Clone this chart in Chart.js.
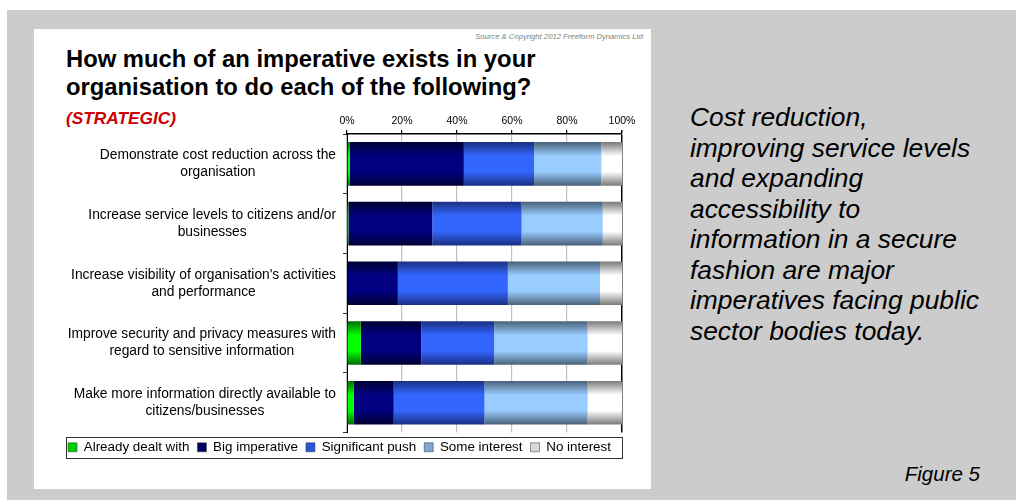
<!DOCTYPE html>
<html>
<head>
<meta charset="utf-8">
<script src="https://cdn.jsdelivr.net/npm/chart.js@4/dist/chart.umd.min.js"></script>
<style>
  body { margin: 0; width: 1016px; height: 500px; background: #fff; position: relative; overflow: hidden;
         font-family: "Liberation Sans", Arial, sans-serif; }
  #bg { position: absolute; left: 7px; top: 10px; width: 1009px; height: 490px; background: #cccccc; }
  #panel { position: absolute; left: 34px; top: 29px; width: 617px; height: 460px; background: #fff; }
  #source { position: absolute; right: 8px; top: 3px; font-size: 7.7px; font-style: italic; color: #808080; }
  #title { position: absolute; left: 32px; top: 16px; margin: 0; font-size: 23.8px; line-height: 28px; font-weight: bold; color: #000; }
  #tag { position: absolute; left: 32px; top: 79px; font-size: 17.3px; line-height: 20px; font-weight: bold; font-style: italic; color: #cc0000; }
  #wrap { position: absolute; left: 0; top: 81px; width: 617px; height: 360px; }
  #note { position: absolute; left: 690px; top: 102px; font-size: 26.4px; line-height: 30.5px; font-style: italic; color: #000; }
  #fig { position: absolute; right: 36px; top: 462px; font-size: 20.5px; font-style: italic; color: #000; }
</style>
</head>
<body>
<div id="bg"></div>
<div id="panel">
  <div id="source">Source &amp; Copyright 2012 Freeform Dynamics Ltd</div>
  <h1 id="title">How much of an imperative exists in your<br>organisation to do each of the following?</h1>
  <div id="tag">(STRATEGIC)</div>
  <div id="wrap"><canvas id="grafico"></canvas></div>
</div>
<div id="note">Cost reduction,<br>improving service levels<br>and expanding<br>accessibility to<br>information in a secure<br>fashion are major<br>imperatives facing public<br>sector bodies today.</div>
<div id="fig">Figure 5</div>

<script>
// Categorias (linhas de cada rótulo)
const categories = [
    ['Demonstrate cost reduction across the', 'organisation'],
    ['Increase service levels to citizens and/or', 'businesses'],
    ["Increase visibility of organisation's activities", 'and performance'],
    ['Improve security and privacy measures with', 'regard to sensitive information'],
    ['Make more information directly available to', 'citizens/businesses'],
];

// Percentagens por resposta
const alreadyDealtWith = [1, 0.5, 0, 5, 2.5];
const bigImperative = [41.5, 30.5, 18.5, 22, 14.5];
const significantPush = [25.5, 32.5, 40, 26.5, 33];
const someInterest = [24.5, 29.5, 33.5, 34, 37.5];
const noInterest = [7.5, 7, 8, 12.5, 12.5];

const tickLabels = ['0%', '20%', '40%', '60%', '80%', '100%'];

const FONT = '"Liberation Sans", Arial, sans-serif';
const BAR_PCT = 0.73;

// Gradiente vertical: escuro nas bordas, claro no meio da barra
function shade(edge, mid) {
    return function (ctx) {
        const chart = ctx.chart;
        const y = chart.scales.y;
        if (ctx.type !== 'data' || !y || !chart.chartArea) return mid;
        const c = y.getPixelForValue(ctx.dataIndex);
        const h = (y.height / categories.length) * BAR_PCT / 2;
        const g = chart.ctx.createLinearGradient(0, c - h, 0, c + h);
        g.addColorStop(0, edge);
        g.addColorStop(0.32, mid);
        g.addColorStop(0.68, mid);
        g.addColorStop(1, edge);
        return g;
    };
}

// Rótulos das categorias e moldura da legenda
const extras = {
    id: 'extras',
    afterDraw(chart) {
        const c = chart.ctx;
        const y = chart.scales.y;
        const right = chart.chartArea.left - 11;
        c.save();
        c.font = '13.8px ' + FONT;
        c.fillStyle = '#000';
        c.textAlign = 'center';
        c.textBaseline = 'middle';
        categories.forEach(function (lines, i) {
            const mid = y.getPixelForValue(i);
            const w = Math.max.apply(null, lines.map(function (l) { return c.measureText(l).width; }));
            lines.forEach(function (l, k) {
                c.fillText(l, right - w / 2, mid + (k - (lines.length - 1) / 2) * 17);
            });
        });

        const boxes = chart.legend.legendHitBoxes;
        if (boxes && boxes.length) {
            const l = boxes[0].left - 2;
            const last = boxes[boxes.length - 1];
            const r = last.left + last.width + 11;
            const t = boxes[0].top - 4;
            const b = boxes[0].top + boxes[0].height + 4;
            c.strokeStyle = '#333';
            c.lineWidth = 1;
            c.strokeRect(Math.round(l) + 0.5, Math.round(t) + 0.5, Math.round(r - l), Math.round(b - t));
        }
        c.restore();
    }
};

const data = {
    labels: categories.map(function (l) { return l.join(' '); }),
    datasets: [
        { label: 'Already dealt with', data: alreadyDealtWith, backgroundColor: shade('#006b00', '#00ff00'), legendColor: '#00d000' },
        { label: 'Big imperative', data: bigImperative, backgroundColor: shade('#000033', '#000080'), legendColor: '#000066' },
        { label: 'Significant push', data: significantPush, backgroundColor: shade('#1a2f80', '#3366ff'), legendColor: '#2a55dd' },
        { label: 'Some interest', data: someInterest, backgroundColor: shade('#4a6178', '#99ccff'), legendColor: '#7fa8d0' },
        { label: 'No interest', data: noInterest, backgroundColor: shade('#7a7a7a', '#ffffff'), legendColor: '#d8d8d8' },
    ],
};

const config = {
    type: 'bar',
    data: data,
    plugins: [extras],
    options: {
        indexAxis: 'y',
        responsive: true,
        maintainAspectRatio: false,
        animation: false,
        datasets: { bar: { categoryPercentage: 1, barPercentage: BAR_PCT, borderWidth: 0 } },
        layout: { padding: { left: 23, right: 29, top: 0, bottom: 6 } },
        scales: {
            x: {
                position: 'top',
                stacked: true,
                min: 0,
                max: 100,
                afterFit: function (s) { s.height = 24; },
                ticks: {
                    stepSize: 20,
                    padding: 3,
                    color: '#000',
                    font: { family: FONT, size: 10.5 },
                    callback: function (v, i) { return tickLabels[i]; },
                },
                grid: {
                    color: function (ctx) { return ctx.tick && ctx.tick.value === 100 ? '#000' : '#c0c0c0'; },
                    lineWidth: function (ctx) { return ctx.tick && ctx.tick.value === 100 ? 1.5 : 1.2; },
                    tickColor: '#000',
                    tickLength: 4,
                },
                border: { color: '#000', width: 1.5 },
            },
            y: {
                stacked: true,
                afterFit: function (s) { s.width = 290; },
                ticks: { display: false },
                grid: { drawOnChartArea: false, tickLength: 4, color: '#333' },
                border: { color: '#000', width: 1 },
            },
        },
        plugins: {
            legend: {
                position: 'bottom',
                labels: {
                    color: '#000',
                    font: { family: FONT, size: 13.4 },
                    boxWidth: 9,
                    boxHeight: 9,
                    padding: 8,
                    generateLabels: function (chart) {
                        const items = Chart.defaults.plugins.legend.labels.generateLabels(chart);
                        items.forEach(function (it) {
                            it.fillStyle = chart.data.datasets[it.datasetIndex].legendColor;
                            it.strokeStyle = '#333';
                            it.lineWidth = 0.5;
                        });
                        return items;
                    },
                },
            },
            tooltip: { enabled: false },
        },
    },
};

document.addEventListener('DOMContentLoaded', function () {
    new Chart(document.getElementById('grafico').getContext('2d'), config);
});
</script>
</body>
</html>
